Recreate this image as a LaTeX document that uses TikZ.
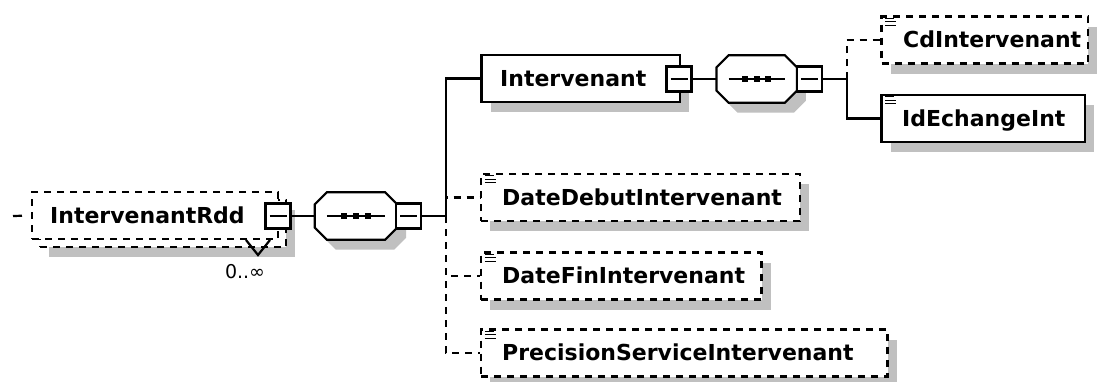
\documentclass[tikz,border=0pt]{standalone}
\usepackage{fontspec}
\setsansfont{DejaVu Sans}
\usetikzlibrary{shadows}
\definecolor{shadowgray}{RGB}{192,192,192}
\tikzset{
  lw/.style={line width=2.2pt},
  dsh/.style={dash pattern=on 7pt off 6pt},
  shd/.style={general shadow={fill=shadowgray, shadow xshift=9pt, shadow yshift=-10pt}},
  elembox/.style={draw, lw, fill=white, inner sep=0pt, minimum height=47pt},
  optbox/.style={elembox, dsh},
  seqbox/.style={inner sep=0pt, minimum width=82pt, minimum height=47pt},
  minusbox/.style={draw, lw, fill=white, inner sep=0pt, minimum size=25pt,
     path picture={\draw[lw] ([xshift=4pt]path picture bounding box.west) -- ([xshift=-4pt]path picture bounding box.east);}},
  dotsq/.style={fill=black, inner sep=0pt, minimum size=6pt},
  lbl/.style={font=\sffamily\bfseries\fontsize{22}{26}\selectfont, inner sep=0pt, anchor=base west},
  conn/.style={lw},
  optconn/.style={lw, dsh},
}
\newcommand{\octpath}[2]{%
  ([#2,xshift=12pt]#1.north west) -- ([#2,xshift=-12pt]#1.north east) --
  ([#2,yshift=-12pt]#1.north east) -- ([#2,yshift=12pt]#1.south east) --
  ([#2,xshift=-12pt]#1.south east) -- ([#2,xshift=12pt]#1.south west) --
  ([#2,yshift=12pt]#1.south west) -- ([#2,yshift=-12pt]#1.north west) -- cycle}
\newcommand{\seqdraw}[1]{%
  \fill[shadowgray] \octpath{#1}{xshift=9pt,yshift=-10pt};
  \draw[lw, fill=white] \octpath{#1}{xshift=0pt};
  \draw[lw] ([xshift=12pt]#1.west) -- ([xshift=-12pt]#1.east);
}
\newcommand{\txticon}[1]{%
  \draw[line width=1.1pt] ([xshift=5pt,yshift=-3pt]#1.north west) -- ++(9pt,0pt);
  \draw[line width=1.1pt] ([xshift=5pt,yshift=-6.5pt]#1.north west) -- ++(11pt,0pt);
  \draw[line width=1.1pt] ([xshift=5pt,yshift=-10pt]#1.north west) -- ++(11pt,0pt);
}
\begin{document}
\begin{tikzpicture}[x=1pt,y=-1pt]
\useasboundingbox[fill=white] (0,0) rectangle (1099,381);

% ---- IntervenantRdd (repeated element)
\node[optbox, shd, minimum width=246pt] (rddback) at (163,223.5) {};
\draw[lw] (246,240) -- (258,255) -- (270,240);
\node[optbox, minimum width=246pt] (rdd) at (155,215.5) {};
\node[lbl] (rddt) at (50,223.5) {IntervenantRdd};
\node[minusbox] (mrdd) at (278,216) {};
\node[font=\sffamily\fontsize{19}{22}\selectfont, inner sep=0pt] (occ) at (245,272) {0..∞};
\coordinate (start) at (13,216);
\draw[lw, dash pattern=on 9pt off 30pt] (start) -- (rdd.west);

% ---- sequence 1
\node[seqbox] (s1) at (356,216) {};
\seqdraw{s1}
\node[dotsq] at ([xshift=-12pt]s1.center) {};
\node[dotsq] at (s1.center) {};
\node[dotsq] at ([xshift=12pt]s1.center) {};
\node[minusbox] (ms1) at (408.5,216) {};
\draw[conn] (mrdd.east) -- (s1.west);
\coordinate (bus1) at (446,216);
\draw[conn] (ms1.east) -- (bus1);

% ---- children of sequence 1
\node[elembox, shd, minimum width=198.5pt] (int) at (580.75,78.5) {};
\node[lbl] (intt) at (500,86) {Intervenant};
\node[minusbox] (mint) at (679,79) {};

\node[optbox, shd, minimum width=319pt] (dd) at (640.5,197.5) {};
\node[lbl] (ddt) at (502,205) {DateDebutIntervenant};
\txticon{dd}

\node[optbox, shd, minimum width=280.5pt] (df) at (621.25,276) {};
\node[lbl] (dft) at (502,283.5) {DateFinIntervenant};
\txticon{df}

\node[optbox, shd, minimum width=406.5pt] (ps) at (684.25,353) {};
\node[lbl] (pst) at (502,360.5) {PrecisionServiceIntervenant};
\txticon{ps}

\draw[conn] (bus1) |- (int.west);
\draw[optconn] (bus1) |- (dd.west);
\draw[optconn] (bus1) |- (df.west);
\draw[optconn] (bus1) |- (ps.west);

% ---- sequence 2
\node[seqbox, minimum width=80pt] (s2) at (756.7,79) {};
\seqdraw{s2}
\node[dotsq] at ([xshift=-11.7pt]s2.center) {};
\node[dotsq] at (s2.center) {};
\node[dotsq] at ([xshift=11.7pt]s2.center) {};
\node[minusbox] (ms2) at (809.3,79) {};
\draw[conn] (mint.east) -- (s2.west);
\coordinate (bus2) at (846.7,79);
\draw[conn] (ms2.east) -- (bus2);

% ---- children of sequence 2
\node[optbox, shd, minimum width=206.5pt] (cd) at (984.75,40) {};
\node[lbl] (cdt) at (903,47.5) {CdIntervenant};
\txticon{cd}

\node[elembox, shd, minimum width=203.5pt] (id) at (983.25,118.5) {};
\node[lbl] (idt) at (902,126) {IdEchangeInt};
\txticon{id}

\draw[optconn] (bus2) |- (cd.west);
\draw[conn] (bus2) |- (id.west);
\end{tikzpicture}
\end{document}
